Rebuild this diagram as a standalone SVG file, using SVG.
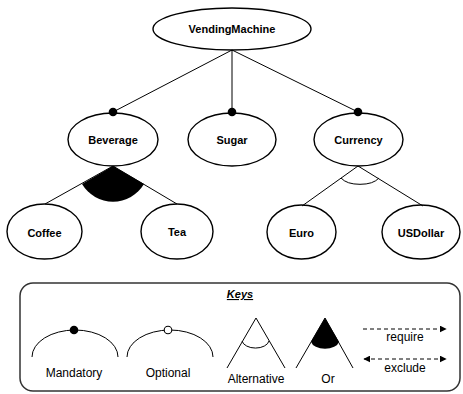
<svg xmlns="http://www.w3.org/2000/svg" width="463" height="394" viewBox="0 0 463 394">
<defs>
<style>
.node{fill:#fff;stroke:#000;stroke-width:1.4}
.nt{font-family:"Liberation Sans",Arial,sans-serif;font-size:11px;font-weight:bold;text-anchor:middle;fill:#000}
.ln{stroke:#000;stroke-width:1;fill:none}
.kt{font-family:"Liberation Sans",Arial,sans-serif;font-size:12px;text-anchor:middle;fill:#000}
.dash{stroke:#000;stroke-width:1;stroke-dasharray:4 3;fill:none}
</style>
<marker id="ah" viewBox="0 0 10 10" refX="9" refY="5" markerWidth="7" markerHeight="7" orient="auto-start-reverse" markerUnits="userSpaceOnUse"><path d="M0,0 L10,5 L0,10 Z" fill="#000"/></marker>
</defs>
<rect width="463" height="394" fill="#fff"/>
<g id="VendingMachine"><ellipse class="node" cx="232" cy="29" rx="79" ry="21"/><text class="nt" x="232" y="33">VendingMachine</text></g>
<g id="Beverage"><ellipse class="node" cx="113" cy="139.5" rx="45" ry="26.5"/><text class="nt" x="113" y="144">Beverage</text></g>
<g id="Sugar"><ellipse class="node" cx="232" cy="139.5" rx="44" ry="26.5"/><text class="nt" x="232" y="144">Sugar</text></g>
<g id="Currency"><ellipse class="node" cx="358.5" cy="139.5" rx="44.5" ry="26.5"/><text class="nt" x="358.5" y="144">Currency</text></g>
<g id="Coffee"><ellipse class="node" cx="44.5" cy="231.5" rx="37.5" ry="27.5"/><text class="nt" x="44.5" y="237">Coffee</text></g>
<g id="Tea"><ellipse class="node" cx="177" cy="231.5" rx="36" ry="27.5"/><text class="nt" x="177" y="236">Tea</text></g>
<g id="Euro"><ellipse class="node" cx="301.5" cy="232" rx="34.5" ry="27"/><text class="nt" x="301.5" y="237">Euro</text></g>
<g id="USDollar"><ellipse class="node" cx="421" cy="232" rx="39" ry="27"/><text class="nt" x="421" y="237">USDollar</text></g>
<g id="connectors">
<path class="ln" d="M232,50 L113,112 M232,50 L232,112 M232,50 L358,112"/>
<circle cx="113" cy="112" r="4.3" fill="#000"/>
<circle cx="232" cy="112" r="4.3" fill="#000"/>
<circle cx="358" cy="112" r="4.3" fill="#000"/>
<path d="M113,166 L82,184 A36,36 0 0 0 144,184 Z" fill="#000"/>
<path class="ln" d="M113,166 L45,204 M113,166 L177,204"/>
<path class="ln" d="M358,166 L302,206 M358,166 L423,206"/>
<path class="ln" d="M341,178 A21,11 0 0 0 379,178"/>
</g>
<g id="keys">
<rect x="20" y="283" width="440" height="108" rx="13" fill="none" stroke="#333" stroke-width="1.5"/>
<text x="240" y="298" font-family="'Liberation Sans',Arial,sans-serif" font-size="11" font-weight="bold" font-style="italic" text-anchor="middle" text-decoration="underline">Keys</text>
<path class="ln" d="M32,357 A43,27 0 0 1 118,357" stroke-width="1.2"/>
<circle cx="74" cy="330" r="4.3" fill="#000"/>
<text class="kt" x="74" y="377">Mandatory</text>
<path class="ln" d="M127,357 A43,27 0 0 1 213,357" stroke-width="1.2"/>
<circle cx="168" cy="330" r="3.8" fill="#fff" stroke="#000" stroke-width="1.1"/>
<text class="kt" x="168" y="377">Optional</text>
<path class="ln" d="M227,368 L256,318 L285,368"/>
<path class="ln" d="M242,341 A13.7,8.5 0 0 0 269,341"/>
<text class="kt" x="256" y="383">Alternative</text>
<path d="M325,318 L311,341.7 A14.2,8.5 0 0 0 339,341.7 Z" fill="#000"/>
<path class="ln" d="M296,368 L325,318 L353,368"/>
<text class="kt" x="328" y="383">Or</text>
<path class="dash" d="M363,329 L446,329" marker-end="url(#ah)"/>
<text class="kt" x="405" y="341">require</text>
<path class="dash" d="M364,359 L446,359" marker-start="url(#ah)" marker-end="url(#ah)"/>
<text class="kt" x="405" y="372">exclude</text>
</g>
</svg>
